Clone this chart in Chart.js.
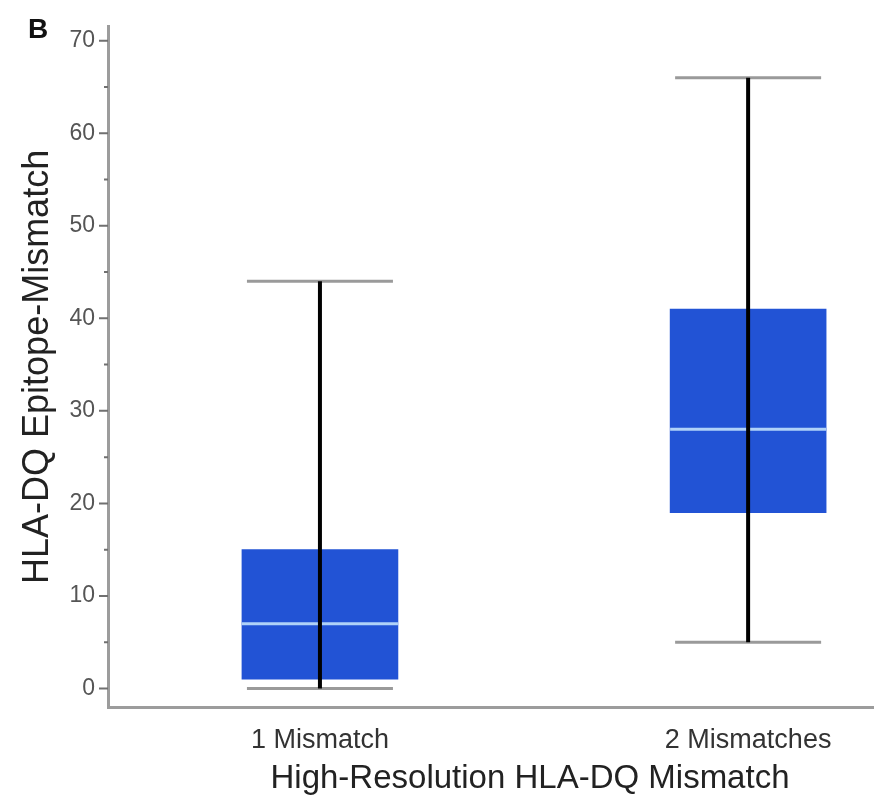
<!DOCTYPE html>
<html>
<head>
<meta charset="utf-8">
<script src="https://cdn.jsdelivr.net/npm/chart.js@4.4.1/dist/chart.umd.min.js"></script>
<style>
	html, body { margin: 0; padding: 0; background: #fff; }
	#wrap { width: 874px; height: 802px; }
</style>
</head>
<body>
<div id="wrap"><canvas id="chart1"></canvas></div>
<script>
var categories = ['1 Mismatch', '2 Mismatches'];
var positions = [1, 2];
var minValues = [0, 5];
var q1Values = [1, 19];
var medianValues = [7, 28];
var q3Values = [15, 41];
var maxValues = [44, 66];
var majorTicks = [0, 10, 20, 30, 40, 50, 60, 70];
var minorTicks = [5, 15, 25, 35, 45, 55, 65];

var fontFamily = '"Liberation Sans", Arial, sans-serif';

var boxPlugin = {
	id: 'boxParts',
	afterDatasetsDraw: function(chart) {
		var ctx = chart.ctx;
		var x = chart.scales.x;
		var y = chart.scales.y;
		var i, px;
		ctx.save();
		for (i = 0; i < positions.length; i++) {
			px = x.getPixelForValue(positions[i]);
			// median
			ctx.strokeStyle = '#b0d2f8';
			ctx.lineWidth = 3;
			ctx.beginPath();
			ctx.moveTo(px - 78, y.getPixelForValue(medianValues[i]));
			ctx.lineTo(px + 78, y.getPixelForValue(medianValues[i]));
			ctx.stroke();
			// caps
			ctx.strokeStyle = '#9a9a9a';
			ctx.lineWidth = 3;
			ctx.beginPath();
			ctx.moveTo(px - 73, y.getPixelForValue(minValues[i]));
			ctx.lineTo(px + 73, y.getPixelForValue(minValues[i]));
			ctx.moveTo(px - 73, y.getPixelForValue(maxValues[i]));
			ctx.lineTo(px + 73, y.getPixelForValue(maxValues[i]));
			ctx.stroke();
			// whisker
			ctx.strokeStyle = '#000';
			ctx.lineWidth = 4;
			ctx.beginPath();
			ctx.moveTo(px, y.getPixelForValue(minValues[i]));
			ctx.lineTo(px, y.getPixelForValue(maxValues[i]));
			ctx.stroke();
		}
		ctx.restore();
	},
	afterDraw: function(chart) {
		var ctx = chart.ctx;
		var y = chart.scales.y;
		var left = chart.chartArea.left;
		var i, py;
		ctx.save();
		ctx.strokeStyle = '#707070';
		ctx.lineWidth = 2;
		ctx.beginPath();
		for (i = 0; i < majorTicks.length; i++) {
			py = y.getPixelForValue(majorTicks[i]);
			ctx.moveTo(left - 9, py);
			ctx.lineTo(left, py);
		}
		for (i = 0; i < minorTicks.length; i++) {
			py = y.getPixelForValue(minorTicks[i]);
			ctx.moveTo(left - 4, py);
			ctx.lineTo(left, py);
		}
		ctx.stroke();
		ctx.textAlign = 'center';
		ctx.textBaseline = 'middle';
		ctx.fillStyle = '#111';
		ctx.font = 'bold 28px ' + fontFamily;
		ctx.fillText('B', 38, 30);
		// x axis title, sits right of the axis centre in the original
		ctx.fillStyle = '#222';
		ctx.font = '33px ' + fontFamily;
		ctx.fillText('High-Resolution HLA-DQ Mismatch', 530, 779);
		ctx.restore();
	}
};

var ctx = document.getElementById('chart1').getContext('2d');
var chart = new Chart(ctx, {
	type: 'bar',
	data: {
		datasets: [{
			data: positions.map(function(p, i) {
				return {x: p, y: [q1Values[i], q3Values[i]]};
			}),
			backgroundColor: '#2253d5',
			borderWidth: 0,
			barThickness: 156
		}]
	},
	options: {
		responsive: true,
		maintainAspectRatio: false,
		animation: false,
		layout: {padding: {top: 18, right: 0, left: 0, bottom: 0}},
		plugins: {legend: {display: false}, tooltip: {enabled: false}},
		scales: {
			x: {
				type: 'linear',
				offset: false,
				min: 0.505,
				max: 2.294,
				afterBuildTicks: function(scale) {
					scale.ticks = positions.map(function(p) { return {value: p}; });
				},
				afterFit: function(scale) { scale.height = 95; },
				grid: {display: false, drawTicks: false},
				border: {display: true, color: '#9c9c9c', width: 3},
				ticks: {
					padding: 17,
					color: '#333',
					font: {family: fontFamily, size: 27},
					maxRotation: 0,
					autoSkip: false,
					callback: function(value) {
						return categories[positions.indexOf(value)];
					}
				}
			},
			y: {
				min: -2,
				max: 71.5,
				afterBuildTicks: function(scale) {
					scale.ticks = majorTicks.map(function(v) { return {value: v}; });
				},
				afterFit: function(scale) { scale.width = 108; },
				grid: {display: false, drawTicks: false},
				border: {display: true, color: '#9c9c9c', width: 3},
				ticks: {
					padding: 13,
					color: '#555',
					font: {family: fontFamily, size: 23}
				},
				title: {
					display: true,
					text: 'HLA-DQ Epitope-Mismatch',
					color: '#222',
					font: {family: fontFamily, size: 36},
					padding: {top: 16, bottom: 0}
				}
			}
		}
	},
	plugins: [boxPlugin]
});
</script>
</body>
</html>
